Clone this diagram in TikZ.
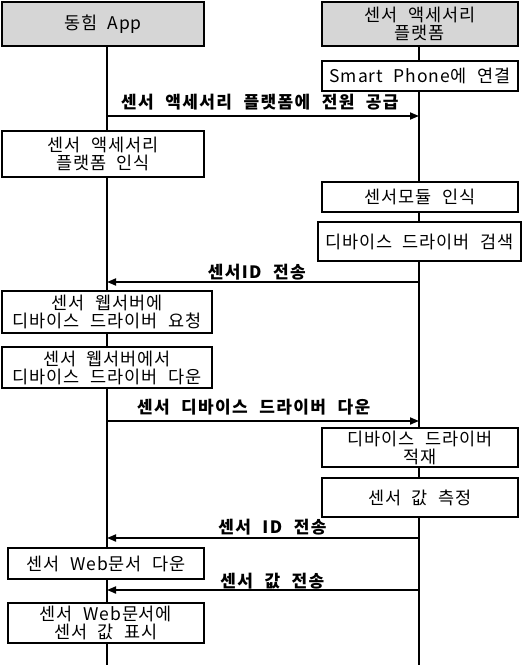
\documentclass[tikz,border=0pt]{standalone}
\usepackage{fontspec}
\setmainfont{Noto Sans CJK KR}[LetterSpace=5,WordSpace=2.2]
\newfontfamily\labfont{Noto Sans CJK KR}[LetterSpace=8,WordSpace=2.2]
\usetikzlibrary{arrows.meta}
\definecolor{hdrgray}{HTML}{D6D6D6}
\begin{document}
\begin{tikzpicture}[x=1pt,y=-1pt,
  box/.style={draw=black, fill=white, line width=2.6pt, align=center, inner sep=0pt,
    font=\fontsize{17.5}{18}\selectfont},
  hdr/.style={box, fill=hdrgray},
  life/.style={line width=2.6pt},
  msg/.style={line width=1.8pt, -{Triangle[length=9pt,width=7pt]}},
  lab/.style={font=\labfont\bfseries\fontsize{17}{17}\selectfont, inner sep=0pt}
]
\useasboundingbox (0,0) rectangle (528,667);
% lifeline ends
\coordinate (Ltop) at (107,40);
\coordinate (Lbot) at (107,665);
\coordinate (Rtop) at (419,40);
\coordinate (Rbot) at (419,665);
\draw[life] (Ltop) -- (Lbot);
\draw[life] (Rtop) -- (Rbot);
% headers
\node[hdr, minimum width=202pt, minimum height=44pt] (hA) at (103,24) {동힘 App};
\node[hdr, minimum width=196pt, minimum height=44pt] (hB) at (420,24) {센서 액세서리\\플랫폼};
% boxes on right
\node[box, minimum width=196pt, minimum height=30pt] (b1) at (420,76) {Smart Phone에 연결};
\node[box, minimum width=196pt, minimum height=30pt] (b3) at (420,197) {센서모듈 인식};
\node[box, minimum width=203pt, minimum height=39pt] (b4) at (419.5,241.5) {디바이스 드라이버 검색};
\node[box, minimum width=196pt, minimum height=39pt] (b7) at (420,447.5) {디바이스 드라이버\\적재};
\node[box, minimum width=196pt, minimum height=39pt] (b8) at (420,497.5) {센서 값 측정};
% boxes on left
\node[box, minimum width=202pt, minimum height=46pt] (b2) at (103,154) {센서 액세서리\\플랫폼 인식};
\node[box, minimum width=210pt, minimum height=42pt] (b5) at (107,312) {센서 웹서버에\\디바이스 드라이버 요청};
\node[box, minimum width=210pt, minimum height=41pt] (b6) at (107,367.5) {센서 웹서버에서\\디바이스 드라이버 다운};
\node[box, minimum width=196pt, minimum height=31pt] (b9) at (106,563.5) {센서 Web문서 다운};
\node[box, minimum width=196pt, minimum height=40pt] (b10) at (106,623) {센서 Web문서에\\센서 값 표시};
% message end points
\coordinate (L1) at (107,116); \coordinate (R1) at (419,116);
\coordinate (L2) at (107,282); \coordinate (R2) at (419,282);
\coordinate (L3) at (107,421); \coordinate (R3) at (419,421);
\coordinate (L4) at (107,538); \coordinate (R4) at (419,538);
\coordinate (L5) at (107,590); \coordinate (R5) at (419,590);
\draw[msg] (L1) -- node[lab, pos=0.49, yshift=13.5pt] (m1) {센서 액세서리 플랫폼에 전원 공급} (R1);
\draw[msg] (R2) -- node[lab, pos=0.52, yshift=10pt] (m2) {센서ID 전송} (L2);
\draw[msg] (L3) -- node[lab, pos=0.47, yshift=13.5pt] (m3) {센서 디바이스 드라이버 다운} (R3);
\draw[msg] (R4) -- node[lab, pos=0.47, yshift=10.5pt] (m4) {센서 ID 전송} (L4);
\draw[msg] (R5) -- node[lab, pos=0.47, yshift=9pt] (m5) {센서 값 전송} (L5);
\end{tikzpicture}
\end{document}
